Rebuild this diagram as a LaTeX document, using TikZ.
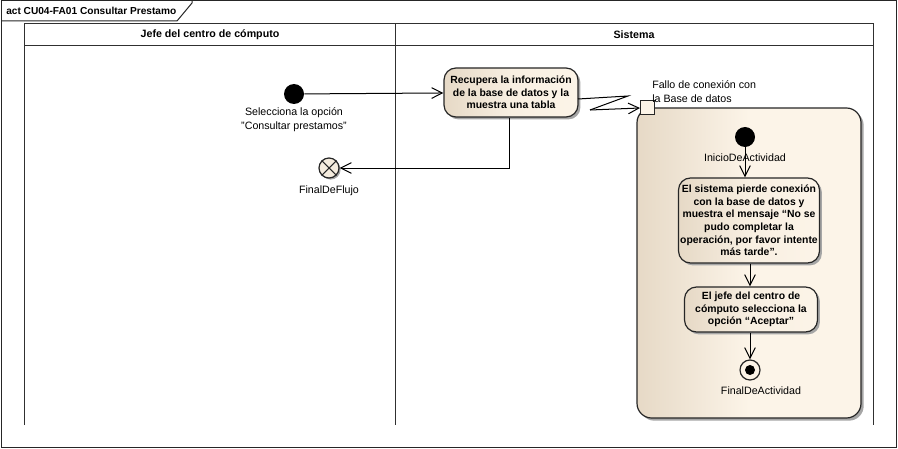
\documentclass[tikz,border=0pt]{standalone}
\usepackage{fontspec}
\setmainfont{Liberation Sans}
\usetikzlibrary{arrows.meta,shadows}
\definecolor{beigeL}{HTML}{E6D9C6}
\definecolor{beigeR}{HTML}{FCF4E8}
\definecolor{lanecol}{HTML}{303030}
\tikzset{
  lbl/.style={font=\fontsize{8}{10.5}\selectfont, align=center, inner sep=0pt},
  act/.style={draw=black!85, line width=0.9pt, rounded corners=9pt, left color=beigeL, right color=beigeR, middle color=beigeR!80!beigeL,
    drop shadow={shadow xshift=1.8pt, shadow yshift=-1.8pt, fill=black!35, opacity=1},
    font=\fontsize{7.8}{9.5}\selectfont\bfseries, align=center, inner sep=1pt},
  flow/.style={line width=0.75pt, -{Straight Barb[length=8pt,width=8pt,line width=0.75pt]}},
  initnode/.style={circle, fill=black, minimum size=15pt, inner sep=0pt},
  pinbox/.style={draw=black!85, line width=0.75pt, fill=beigeR, minimum size=10.5pt, inner sep=0pt},
}
\begin{document}
\begin{tikzpicture}[x=0.75pt,y=-0.75pt]
\useasboundingbox (0,0) rectangle (898,449);
% frame
\draw[line width=0.75pt, black!85] (1,1) rectangle (896,447);
\draw[line width=0.75pt, black!85] (1,21) -- (177,21) -- (192,3) -- (192,1);
\node[anchor=west, inner sep=0pt, font=\fontsize{7.6}{10}\selectfont\bfseries] (title) at (6,11) {act CU04-FA01 Consultar Prestamo};
% lanes
\draw[line width=0.75pt, lanecol] (24,425) -- (24,24) -- (873,24) -- (873,425);
\draw[line width=0.75pt, lanecol] (24,46) -- (873,46);
\draw[line width=0.75pt, lanecol] (395,24) -- (395,425);
\node[font=\fontsize{8}{10}\selectfont\bfseries, inner sep=0pt] (lane1) at (210,35) {Jefe del centro de cómputo};
\node[font=\fontsize{8}{10}\selectfont\bfseries, inner sep=0pt] (lane2) at (634,35) {Sistema};
% interruptible region
\node[draw=black!85, line width=0.9pt, rounded corners=11pt, minimum width=168pt, minimum height=232.5pt,
  left color=beigeL, right color=beigeR, middle color=beigeR,
  drop shadow={shadow xshift=2pt, shadow yshift=-2pt, fill=black!35, opacity=1}] (region) at (749,263) {};
% left lane
\node[initnode] (ini) at (294,94) {};
\node[lbl] (inilbl) at (294,120) {Selecciona la opción\\"Consultar prestamos"};
\node[circle, draw=black!85, line width=0.9pt, fill=beigeR!70!beigeL, minimum size=15pt, inner sep=0pt,
  drop shadow={shadow xshift=1.2pt, shadow yshift=-1.2pt, fill=black!35, opacity=1}] (ff) at (329,168) {};
\draw[line width=0.8pt, black!85] (ff.north west) -- (ff.south east) (ff.north east) -- (ff.south west);
\node[lbl] (fflbl) at (329,191) {FinalDeFlujo};
% action 1
\node[act, minimum width=100.5pt, minimum height=36.75pt] (a1) at (511,92.5)
  {Recupera la información\\de la base de datos y la\\muestra una tabla};
\draw[flow] (ini) -- (a1);
\coordinate (ffc) at (509,168);
\draw[flow] (a1.south -| ffc) -- (ffc) -- (ff);
% pin and interrupting edge
\node[pinbox] (pin) at (647.5,108) {};
\node[lbl, anchor=west, align=left] (pinlbl) at (652,91.5) {Fallo de conexión con\\la Base de datos};
\coordinate (z0) at (578,99);
\coordinate (z1) at (628,96);
\coordinate (z2) at (590,110);
\draw[line width=0.75pt] (z0) -- (z1) -- (z2);
\draw[flow] (z2) -- (pin.west |- 0,108);
% inner
\node[initnode] (ini2) at (745,137) {};
\node[lbl] (ini2lbl) at (745,158) {InicioDeActividad};
\node[act, minimum width=105.75pt, minimum height=63.75pt] (a2) at (749,220.5)
  {El sistema pierde conexión\\con la base de datos y\\muestra el mensaje “No se\\pudo completar la\\operación, por favor intente\\más tarde”.};
\node[act, minimum width=99.75pt, minimum height=33.75pt] (a3) at (751,309.5)
  {El jefe del centro de\\cómputo selecciona la\\opción “Aceptar”};
\node[circle, draw=black!85, line width=0.9pt, fill=beigeR, minimum size=15pt, inner sep=0pt] (fin) at (750,370) {};
\node[circle, fill=black, minimum size=7.5pt, inner sep=0pt] (findot) at (fin) {};
\node[lbl] (finlbl) at (761,391) {FinalDeActividad};
\draw[flow] (ini2) -- (ini2 |- a2.north);
\draw[flow] (a2.south -| fin) -- (a3.north -| fin);
\draw[flow] (a3.south -| fin) -- (fin);
\end{tikzpicture}
\end{document}
